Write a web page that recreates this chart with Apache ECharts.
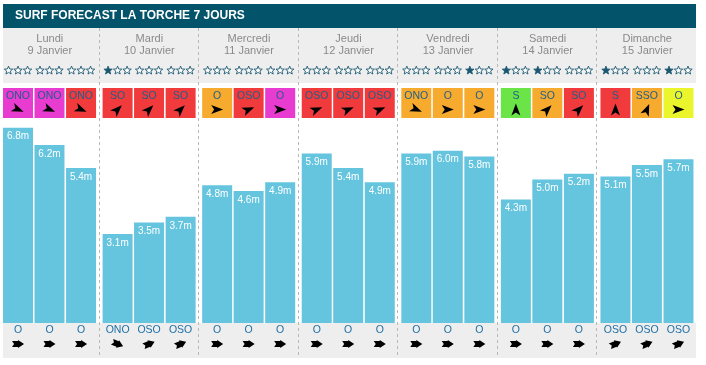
<!DOCTYPE html>
<html><head><meta charset="utf-8">
<script src="https://cdn.jsdelivr.net/npm/echarts/dist/echarts.min.js"></script>
<style>html,body{margin:0;padding:0;background:#fff}#c{width:706px;height:365px}</style>
</head><body><div id="c"></div><script>
// ---------- data ----------
const title = 'SURF FORECAST LA TORCHE 7 JOURS';
const dayNames = ['Lundi', 'Mardi', 'Mercredi', 'Jeudi', 'Vendredi', 'Samedi', 'Dimanche'];
const dayDates = ['9 Janvier', '10 Janvier', '11 Janvier', '12 Janvier', '13 Janvier', '14 Janvier', '15 Janvier'];
const waveHeights = [6.8, 6.2, 5.4, 3.1, 3.5, 3.7, 4.8, 4.6, 4.9, 5.9, 5.4, 4.9, 5.9, 6.0, 5.8, 4.3, 5.0, 5.2, 5.1, 5.5, 5.7];
const starRatings = [0, 0, 0, 1, 0, 0, 0, 0, 0, 0, 0, 0, 0, 0, 1, 1, 1, 0, 1, 0, 1];
const windDirs = ['ONO', 'ONO', 'ONO', 'SO', 'SO', 'SO', 'O', 'OSO', 'O', 'OSO', 'OSO', 'OSO', 'ONO', 'O', 'O', 'S', 'SO', 'SO', 'S', 'SSO', 'O'];
const windLevels = ['m', 'm', 'r', 'r', 'r', 'r', 'o', 'r', 'm', 'r', 'r', 'r', 'o', 'o', 'o', 'g', 'o', 'r', 'r', 'o', 'y'];
const swellDirs = ['O', 'O', 'O', 'ONO', 'OSO', 'OSO', 'O', 'O', 'O', 'O', 'O', 'O', 'O', 'O', 'O', 'O', 'O', 'O', 'OSO', 'OSO', 'OSO'];

// ---------- style ----------
const levelColor = { m: '#e83bcf', r: '#f03a3b', o: '#f6ab2e', g: '#6ae447', y: '#ebf52b' };
const compass = { N: 0, NNE: 22.5, NE: 45, ENE: 67.5, E: 90, ESE: 112.5, SE: 135, SSE: 157.5, S: 180, SSO: 202.5, SO: 225, OSO: 247.5, O: 270, ONO: 292.5, NO: 315, NNO: 337.5 };
const slotFrac = [0.181, 0.497, 0.814];
const BAR_W = 30;
const FONT = '"Liberation Sans", Arial, sans-serif';
const barColor = '#65c4de';
const starColor = '#1b5870';
const navArrow = 'M6,0 L-6,-4.5 L-3,0 L-6,4.5 Z';
const fatArrow = 'M-6,-3 L0,-3 L0,-4 L6,0 L0,4 L0,3 L-6,3 L-4,0 Z';
const rot = d => (270 - compass[d]) * Math.PI / 180;
function starPath(R, r) {
  let d = '';
  for (let k = 0; k < 10; k++) {
    const a = -Math.PI / 2 + k * Math.PI / 5;
    const rr = k % 2 ? r : R;
    d += (k ? 'L' : 'M') + (rr * Math.cos(a)).toFixed(2) + ',' + (rr * Math.sin(a)).toFixed(2);
  }
  return d + 'Z';
}
const STAR = starPath(4.4, 1.9);

const xOf = i => Math.floor(i / 3) + slotFrac[i % 3];
const slotData = waveHeights.map((v, i) => [xOf(i), v, i]);

const chart = echarts.init(document.getElementById('c'), null, { renderer: 'canvas' });
chart.setOption({
  animation: false,
  grid: { left: 0, right: 9, top: 122, bottom: 42 },
  xAxis: { type: 'value', min: 0, max: 7, show: false },
  yAxis: { type: 'value', min: 0, max: 7, show: false },
  graphic: [
    { type: 'rect', z: 0, shape: { x: 3, y: 4, width: 693, height: 24 }, style: { fill: '#03546a' } },
    { type: 'text', z: 1, x: 15, y: 16, style: { text: title, fill: '#ffffff', font: 'bold 12px ' + FONT, verticalAlign: 'middle' } },
    { type: 'rect', z: 0, shape: { x: 3, y: 28, width: 693, height: 55 }, style: { fill: '#eeeeee' } },
    { type: 'rect', z: 0, shape: { x: 3, y: 323, width: 693, height: 35 }, style: { fill: '#eeeeee' } }
  ],
  series: [
    { // day separators
      type: 'custom', clip: false, z: 1,
      data: [[1], [2], [3], [4], [5], [6]],
      renderItem(params, api) {
        const p = api.coord([api.value(0), 0]);
        const x = Math.round(p[0]) - 0.5;
        return { type: 'line', shape: { x1: x, y1: 28, x2: x, y2: 358 }, style: { stroke: '#b8b8b8', lineWidth: 1, lineDash: [3, 3] } };
      }
    },
    { // day headers
      type: 'custom', clip: false, z: 3,
      data: dayNames.map((n, i) => [i + 0.5, i]),
      renderItem(params, api) {
        const p = api.coord([api.value(0), 0]);
        const i = params.dataIndex;
        return { type: 'group', children: [
          { type: 'text', x: p[0], y: 39, style: { text: dayNames[i], fill: '#8a8a8a', font: '11px ' + FONT, align: 'center', verticalAlign: 'middle' } },
          { type: 'text', x: p[0], y: 51, style: { text: dayDates[i], fill: '#8a8a8a', font: '11px ' + FONT, align: 'center', verticalAlign: 'middle' } }
        ] };
      }
    },
    { // stars, wind boxes, swell
      type: 'custom', clip: false, z: 3,
      data: slotData,
      renderItem(params, api) {
        const i = params.dataIndex;
        const p = api.coord([api.value(0), 0]);
        const cx = p[0];
        const n = starRatings[i];
        const children = [];
        for (let k = 0; k < 3; k++) {
          children.push({ type: 'path', x: cx + (k - 1) * 9.5, y: 70.5,
            shape: { pathData: STAR },
            style: k < n ? { fill: starColor, stroke: starColor, lineWidth: 0.8 } : { fill: '#ffffff', stroke: starColor, lineWidth: 0.9 } });
        }
        children.push(
          { type: 'rect', shape: { x: cx - BAR_W / 2, y: 88, width: BAR_W, height: 30 }, style: { fill: levelColor[windLevels[i]] } },
          { type: 'text', x: cx, y: 96.5, style: { text: windDirs[i], fill: '#215e8a', font: '10.5px ' + FONT, align: 'center', verticalAlign: 'middle' } },
          { type: 'path', x: cx, y: 109.5, rotation: rot(windDirs[i]), shape: { pathData: navArrow }, style: { fill: '#000' } },
          { type: 'text', x: cx, y: 330, style: { text: swellDirs[i], fill: '#1f6fa5', font: '10.5px ' + FONT, align: 'center', verticalAlign: 'middle' } },
          { type: 'path', x: cx, y: 344, rotation: rot(swellDirs[i]), shape: { pathData: fatArrow }, style: { fill: '#000' } }
        );
        return { type: 'group', children };
      }
    },
    { // wave height bars
      type: 'custom', clip: false, z: 2,
      data: slotData,
      renderItem(params, api) {
        const v = api.value(1);
        const top = api.coord([api.value(0), v]);
        const base = api.coord([api.value(0), 0]);
        return { type: 'group', children: [
          { type: 'rect', shape: { x: top[0] - BAR_W / 2, y: top[1], width: BAR_W, height: base[1] - top[1] }, style: { fill: barColor } },
          { type: 'text', x: top[0], y: top[1] + 9, style: { text: v.toFixed(1) + 'm', fill: '#ffffff', font: '10px ' + FONT, align: 'center', verticalAlign: 'middle' } }
        ] };
      }
    }
  ]
});
</script></body></html>
